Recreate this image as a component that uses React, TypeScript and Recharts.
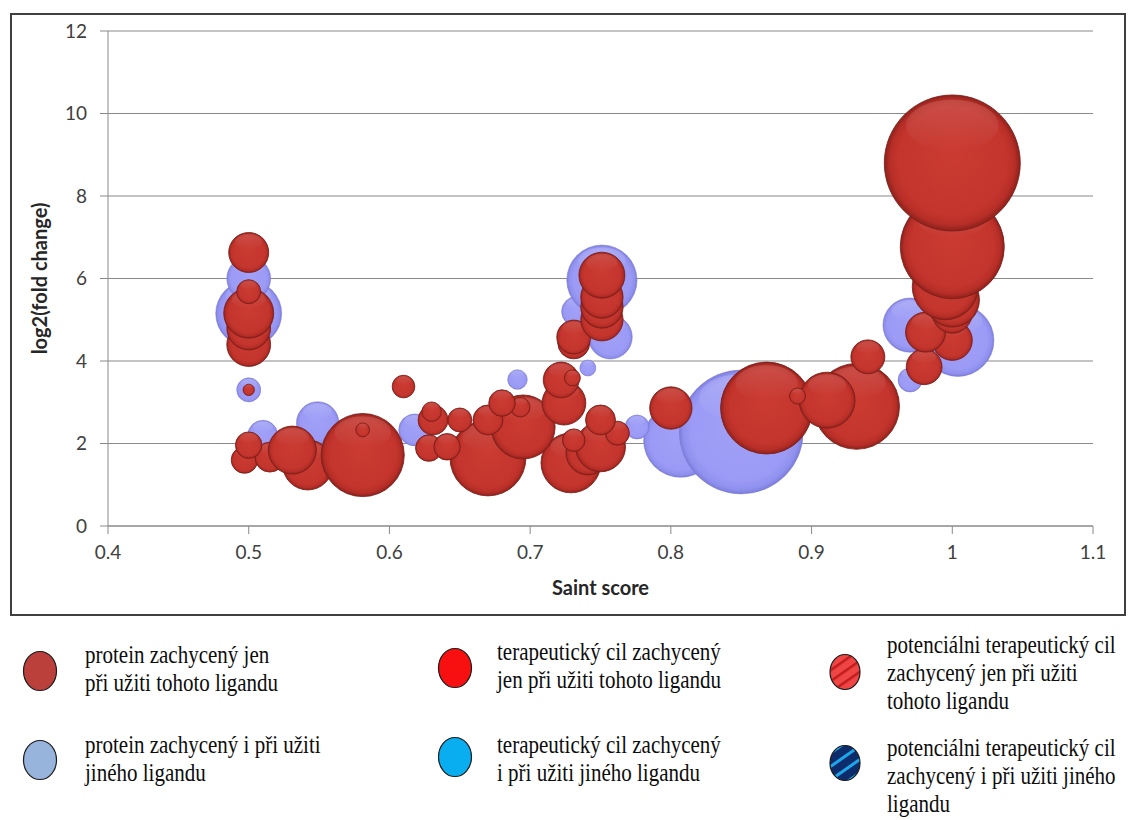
import { ScatterChart, Scatter, XAxis, YAxis, ZAxis, CartesianGrid } from "recharts";

// Saint score / log2 fold change / bubble size, per group of proteins
const blueSaint = [0.5, 0.5, 0.5, 0.51, 0.549, 0.618, 0.691, 0.733, 0.741, 0.751, 0.757, 0.776, 0.807, 0.85, 0.97, 0.97, 1.004];
const blueFold = [6.0, 5.15, 3.3, 2.2, 2.5, 2.33, 3.55, 5.2, 3.83, 5.96, 4.58, 2.4, 2.08, 2.28, 4.87, 3.54, 4.5];
const blueSize = [30, 68, 9, 14, 28, 16, 6, 14, 4, 77, 30, 9, 86, 240, 46, 9, 81];

const redSaint = [
  0.5, 0.5, 0.5, 0.5, 0.5, 0.5, 0.61, 0.5, 0.497, 0.515, 0.531, 0.542, 0.581, 0.581, 0.63, 0.631, 0.628, 0.641,
  0.65, 0.67, 0.67, 0.68, 0.693, 0.695, 0.722, 0.73, 0.724, 0.729, 0.731, 0.741, 0.75, 0.75, 0.762, 0.731, 0.731,
  0.751, 0.751, 0.751, 0.751, 0.8, 0.868, 0.89, 0.911, 0.932, 0.94, 0.98, 0.981, 1.0, 1.0, 0.995, 1.0, 1.0, 1.0,
];
const redFold = [
  6.63, 5.68, 5.16, 4.8, 4.4, 3.3, 3.38, 1.96, 1.6, 1.67, 1.84, 1.48, 1.72, 2.33, 2.77, 2.57, 1.89, 1.92,
  2.57, 1.65, 2.57, 2.98, 2.88, 2.4, 3.54, 3.59, 2.98, 1.53, 2.08, 1.77, 1.92, 2.57, 2.25, 4.58, 4.44,
  6.08, 5.55, 5.31, 5.0, 2.86, 2.86, 3.15, 3.05, 2.9, 4.1, 3.86, 4.7, 8.8, 6.77, 5.8, 5.48, 5.16, 4.5,
];
const redSize = [
  25, 9, 39, 30, 30, 2, 8, 11, 11, 14, 36, 39, 108, 3, 6, 14, 11, 11,
  9, 90, 14, 11, 6, 64, 20, 4, 30, 56, 8, 30, 39, 14, 9, 18, 16,
  33, 28, 28, 28, 28, 132, 4, 49, 115, 18, 20, 25, 289, 169, 68, 46, 25, 25,
];

const xTicks = [0.4, 0.5, 0.6, 0.7, 0.8, 0.9, 1, 1.1];
const yTicks = [0, 2, 4, 6, 8, 10, 12];

const legendRows = [
  ["protein zachycený jen", "při užiti tohoto ligandu"],
  ["terapeutický cil zachycený", "jen při užiti tohoto ligandu"],
  ["potenciálni terapeutický cil", "zachycený jen při užiti", "tohoto ligandu"],
  ["protein zachycený i při užiti", "jiného ligandu"],
  ["terapeutický cil zachycený", "i při užiti jiného ligandu"],
  ["potenciálni terapeutický cil", "zachycený i při užiti jiného", "ligandu"],
];

function toPoints(saint: number[], fold: number[], size: number[]) {
  // higher bubbles are painted last so they sit in front
  return saint.map((x, i) => ({ x, y: fold[i], z: size[i] })).sort((a, b) => a.y - b.y);
}

const bluePoints = toPoints(blueSaint, blueFold, blueSize);
const redPoints = toPoints(redSaint, redFold, redSize);

function Bubble(props: any) {
  const { cx, cy, tone } = props;
  const r = props.size ? Math.sqrt(props.size / Math.PI) : (props.width || 0) / 2;
  if (!r) return null;
  const red = tone === "red";
  return (
    <g>
      <circle
        cx={cx}
        cy={cy}
        r={r}
        fill={red ? "url(#ballRed)" : "url(#ballBlue)"}
        stroke={red ? "#7c1e1a" : "#7d7dd4"}
        strokeWidth={red ? 1 : 0.8}
        strokeOpacity={red ? 0.85 : 0.7}
      />
      <ellipse cx={cx} cy={cy - r * 0.55} rx={r * 0.68} ry={r * 0.38} fill={red ? "url(#shineRed)" : "url(#shineBlue)"} />
    </g>
  );
}

function Marker({ kind }: { kind: number }) {
  const fills = ["#bb3f3a", "#f81010", "url(#stripeRed)", "#97b4dc", "#08aef0", "url(#stripeNavy)"];
  const small = kind === 2 || kind === 5;
  return (
    <svg width={38} height={44}>
      <defs>
        <pattern id="stripeRed" width="9" height="9" patternUnits="userSpaceOnUse" patternTransform="rotate(-35)">
          <rect width="9" height="9" fill="#f04545" />
          <rect width="9" height="2.5" fill="#c01c1c" />
        </pattern>
        <pattern id="stripeNavy" width="11" height="11" patternUnits="userSpaceOnUse" patternTransform="rotate(-35)">
          <rect width="11" height="11" fill="#0c2c6c" />
          <rect width="11" height="3" fill="#1ea6ea" />
        </pattern>
      </defs>
      <ellipse
        cx={19}
        cy={22}
        rx={small ? 15 : 16.5}
        ry={small ? 17.5 : 19.5}
        fill={fills[kind]}
        stroke="#1c1c1c"
        strokeWidth={1.2}
      />
    </svg>
  );
}

const markerPos = [
  [21, 649], [436, 646], [826, 650],
  [21, 738], [436, 735], [826, 741],
];
const textPos = [
  [85, 655], [497, 652], [887, 645],
  [85, 745], [497, 745], [887, 748],
];

const axisFont = "Lato";

export default function App() {
  return (
    <div style={{ position: "relative", width: 1139, height: 820, background: "#fff", overflow: "hidden" }}>
      <style>{"body{margin:0}"}</style>
      <div
        style={{
          position: "absolute",
          left: 10,
          top: 13,
          width: 1116,
          height: 603,
          border: "2px solid #3f3f3f",
          boxSizing: "border-box",
        }}
      />
      <div style={{ position: "absolute", left: 0, top: 0 }}>
        <ScatterChart width={1139} height={620} margin={{ top: 31, right: 46, bottom: 54, left: 48 }}>
          <defs>
            <radialGradient id="ballRed" cx="50%" cy="50%" r="50%" fx="50%" fy="42%">
              <stop offset="0%" stopColor="#cb3b32" />
              <stop offset="80%" stopColor="#c3352d" />
              <stop offset="92%" stopColor="#b72e27" />
              <stop offset="100%" stopColor="#8c211c" />
            </radialGradient>
            <radialGradient id="ballBlue" cx="50%" cy="50%" r="50%" fx="50%" fy="42%">
              <stop offset="0%" stopColor="#a0a0f8" />
              <stop offset="82%" stopColor="#9b9bf5" />
              <stop offset="94%" stopColor="#8f8fee" />
              <stop offset="100%" stopColor="#7b7bda" />
            </radialGradient>
            <linearGradient id="shineRed" x1="0" y1="0" x2="0" y2="1">
              <stop offset="0%" stopColor="#ffffff" stopOpacity={0.13} />
              <stop offset="100%" stopColor="#ffffff" stopOpacity={0} />
            </linearGradient>
            <linearGradient id="shineBlue" x1="0" y1="0" x2="0" y2="1">
              <stop offset="0%" stopColor="#ffffff" stopOpacity={0.18} />
              <stop offset="100%" stopColor="#ffffff" stopOpacity={0} />
            </linearGradient>
          </defs>
          <CartesianGrid vertical={false} stroke="#8a8a8a" strokeWidth={1.2} />
          <XAxis
            type="number"
            dataKey="x"
            domain={[0.4, 1.1]}
            ticks={xTicks}
            tickFormatter={(v) => String(v)}
            height={40}
            tickSize={8}
            tickMargin={12}
            stroke="#8a8a8a"
            tick={{ fill: "#404040", fontSize: 19, fontFamily: axisFont }}
            label={{
              value: "Saint score",
              position: "bottom",
              offset: 15,
              style: { fill: "#262626", fontSize: 20, fontWeight: 700, fontFamily: axisFont },
            }}
          />
          <YAxis
            type="number"
            dataKey="y"
            domain={[0, 12]}
            ticks={yTicks}
            width={60}
            tickSize={8}
            tickMargin={13}
            stroke="#8a8a8a"
            tick={{ fill: "#404040", fontSize: 19, fontFamily: axisFont }}
            label={{
              value: "log2(fold change)",
              angle: -90,
              position: "insideLeft",
              offset: -8,
              style: { textAnchor: "middle", fill: "#262626", fontSize: 20, fontWeight: 700, fontFamily: axisFont },
            }}
          />
          <ZAxis type="number" dataKey="z" domain={[0, 300]} range={[0, 15080]} />
          <Scatter data={bluePoints} isAnimationActive={false} shape={(p: any) => <Bubble {...p} tone="blue" />} />
          <Scatter data={redPoints} isAnimationActive={false} shape={(p: any) => <Bubble {...p} tone="red" />} />
        </ScatterChart>
      </div>

      {legendRows.map((lines, i) => (
        <div key={i}>
          <div style={{ position: "absolute", left: markerPos[i][0], top: markerPos[i][1] }}>
            <Marker kind={i} />
          </div>
          {lines.map((line, j) => (
            <div
              key={j}
              style={{
                position: "absolute",
                left: textPos[i][0],
                top: textPos[i][1] + j * 28 - 12,
                height: 24,
                lineHeight: "24px",
                fontFamily: "'Liberation Serif', serif",
                fontSize: 21,
                color: "#0d0d0d",
                whiteSpace: "nowrap",
                transform: "scaleY(1.15)",
                transformOrigin: "left center",
              }}
            >
              {line}
            </div>
          ))}
        </div>
      ))}
    </div>
  );
}
